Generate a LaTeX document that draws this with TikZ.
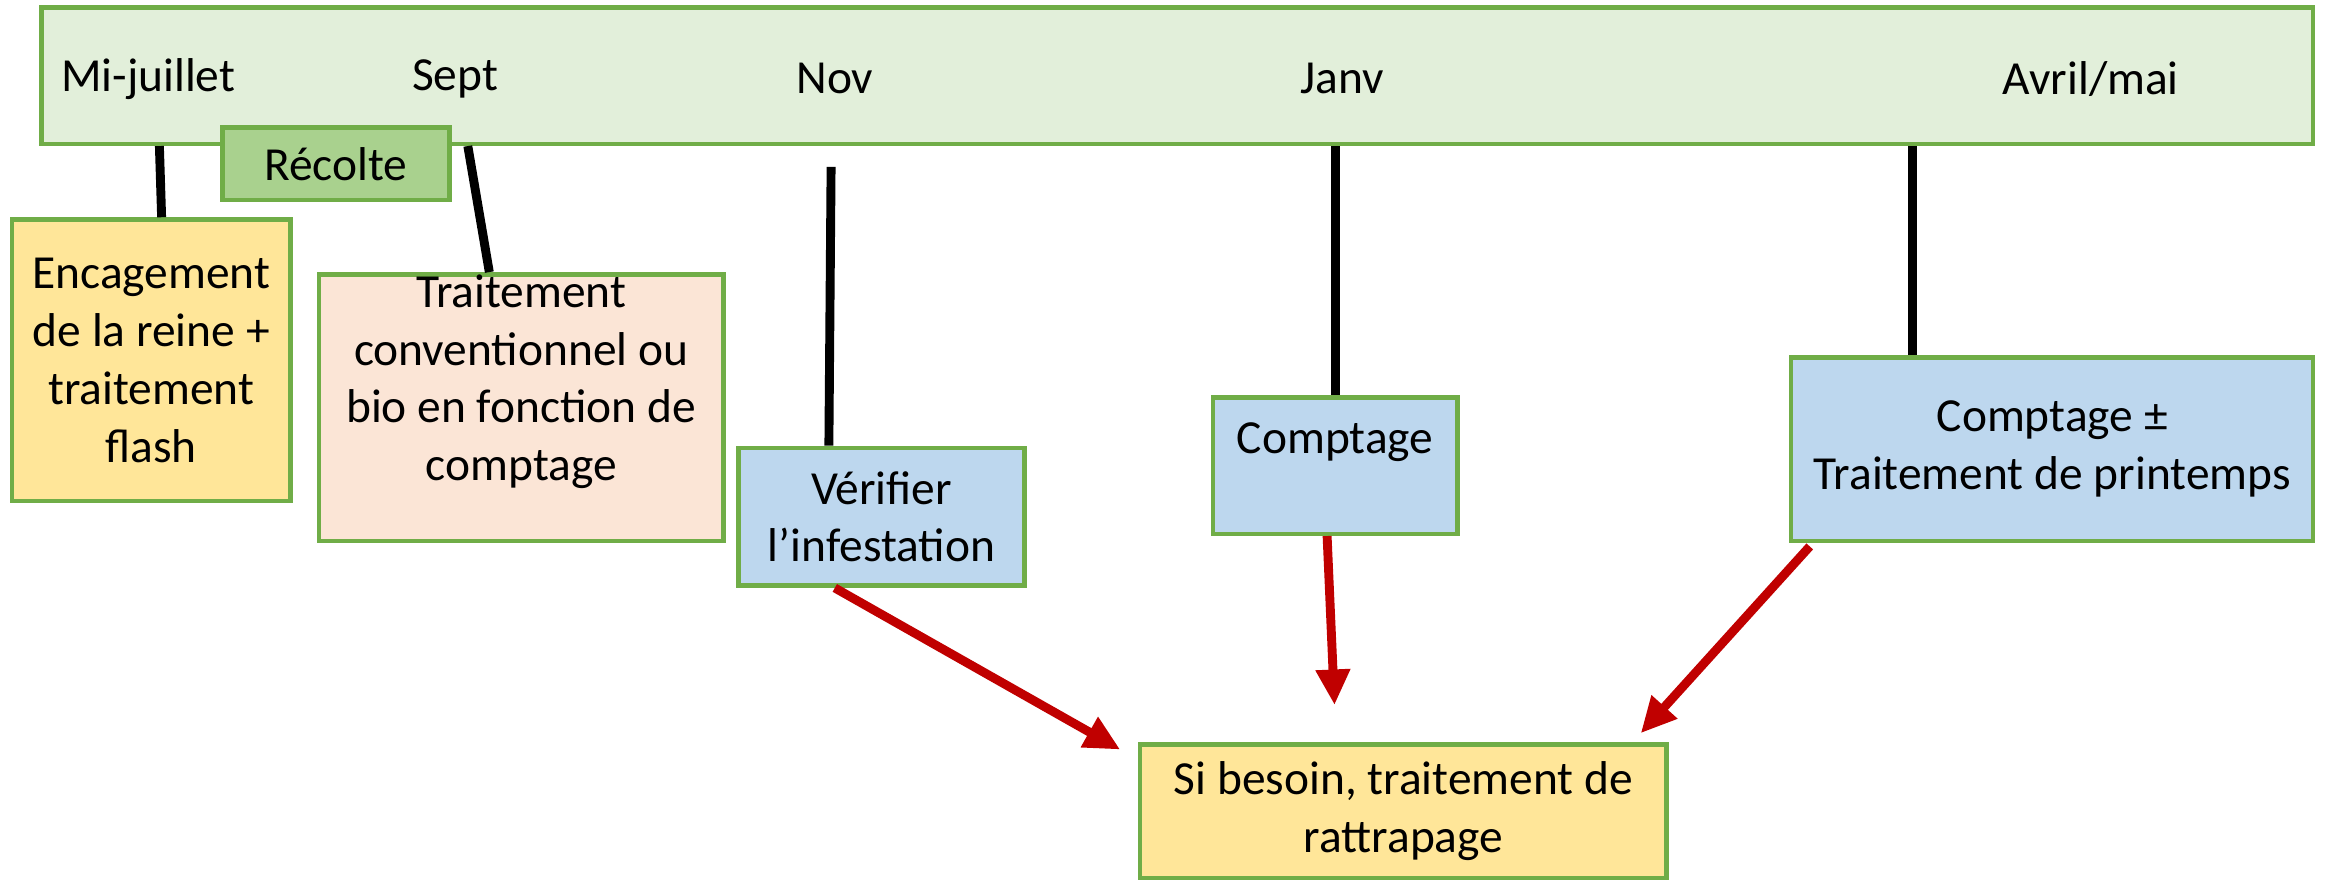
\documentclass[tikz,border=0pt]{standalone}
\usepackage{fontspec}
\setmainfont{Carlito}
\usetikzlibrary{arrows.meta}

\definecolor{bargreen}{HTML}{E2EFDA}
\definecolor{edgegreen}{HTML}{70AD47}
\definecolor{harvestgreen}{HTML}{A9D18E}
\definecolor{paleyellow}{HTML}{FFE699}
\definecolor{palepink}{HTML}{FBE5D6}
\definecolor{paleblue}{HTML}{BDD7EE}
\definecolor{darkred}{HTML}{C00000}

\begin{document}
\begin{tikzpicture}[x=1pt,y=-1pt,
		box/.style={draw=edgegreen,line width=3pt,align=center,inner sep=0pt,font=\fontsize{32}{39}\selectfont},
		month/.style={font=\fontsize{32}{39}\selectfont},
		tickline/.style={line width=6pt},
		redarrow/.style={draw=darkred,line width=6pt,-{Triangle[length=24pt,width=22pt]}}]
		\useasboundingbox (0,0) rectangle (1568,595);
		
		% timeline
		\node[box,fill=bargreen,minimum width=1532pt,minimum height=92pt] (bar) at (794,51) {};
		\node[month] (julmonth) at (100,53) {Mi-juillet};
		\node[month] (sepmonth) at (307,53) {Sept};
		\node[month] (novmonth) at (563,53) {Nov};
		\node[month] (janmonth) at (905,53) {Janv};
		\node[month] (avrmonth) at (1410,53) {Avril/mai};
		\node[box,fill=harvestgreen,minimum width=153pt,minimum height=49pt] (recolte) at (226.5,110.5) {Récolte};
		
		% actions
		\node[box,fill=paleyellow,minimum width=188pt,minimum height=190pt] (encag) at (102,243) {Encagement\\de la reine +\\traitement\\flash};
		\node[box,fill=palepink,minimum width=273pt,minimum height=180pt] (trait) at (351.5,275) {Traitement\\conventionnel ou\\bio en fonction de\\comptage\\[-10pt]\strut};
		\node[box,fill=paleblue,minimum width=193pt,minimum height=93pt] (verif) at (594.5,348.5) {Vérifier\\l’infestation};
		\node[box,fill=paleblue,minimum width=165pt,minimum height=92pt] (compt) at (900.5,314) {Comptage\\[-14pt]\strut};
		\node[box,fill=paleblue,minimum width=352pt,minimum height=124pt] (printemps) at (1384,303) {Comptage ±\\Traitement de printemps};
		\node[box,fill=paleyellow,minimum width=355pt,minimum height=90pt] (besoin) at (946.5,547) {Si besoin, traitement de\\rattrapage};
		
		% ticks
		\draw[tickline] ([xshift=81pt]bar.south west) -- ([xshift=7pt]encag.north);
		\draw[tickline] ([xshift=289pt]bar.south west) -- ([xshift=-21.5pt]trait.north);
		\draw[tickline] ([xshift=534pt,yshift=-14pt]bar.south west) -- ([xshift=-35.5pt]verif.north);
		\draw[tickline] (compt.north |- bar.south) -- (compt.north);
		\draw[tickline] ([xshift=-94pt]printemps.north |- bar.south) -- ([xshift=-94pt]printemps.north);
		
		% catch-up
		\draw[redarrow] ([xshift=-31.5pt]verif.south) -- ([xshift=-12pt,yshift=-5pt]besoin.north west);
		\draw[redarrow] ([xshift=-5.5pt]compt.south) -- ([xshift=-46.5pt,yshift=25pt]besoin.north);
		\draw[redarrow] ([xshift=14pt,yshift=-2pt]printemps.south west) -- ([xshift=-19pt,yshift=6pt]besoin.north east);
\end{tikzpicture}
\end{document}
